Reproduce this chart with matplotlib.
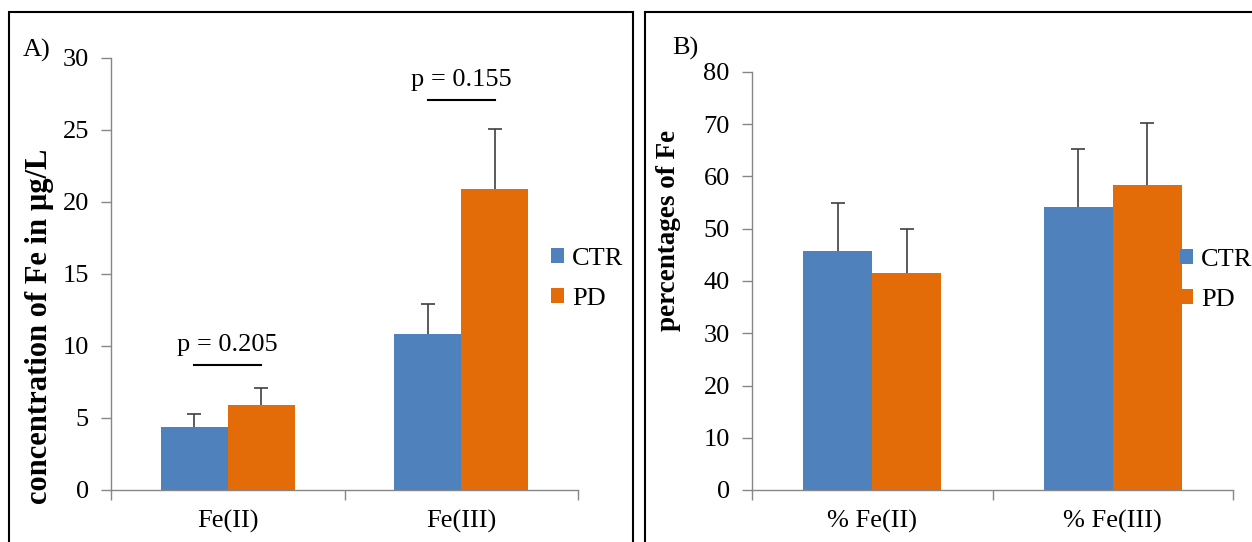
import matplotlib.pyplot as plt
import matplotlib.patches as mpatches
import numpy as np

plt.rcParams['font.family'] = ['Liberation Serif', 'DejaVu Serif']

# panel A data
cats_a = ["Fe(II)", "Fe(III)"]
ctr_a = [4.4, 10.8]
ctr_a_err = [0.9, 2.1]
pd_a = [5.9, 20.9]
pd_a_err = [1.2, 4.2]
p_text = ["p = 0.205", "p = 0.155"]
p_line_y = [8.7, 27.1]

# panel B data
cats_b = ["% Fe(II)", "% Fe(III)"]
ctr_b = [45.7, 54.1]
ctr_b_err = [9.3, 11.1]
pd_b = [41.5, 58.4]
pd_b_err = [8.5, 11.8]

blue = "#4F81BD"
orange = "#E36C09"
grey = "#868686"
fs = 19

W, H = 1252, 542
fig = plt.figure(figsize=(W / 100, H / 100), dpi=100)

# panel frames
fig.add_artist(mpatches.Rectangle((9/W, -0.01), 624/W, 1 - 12/H + 0.01,
                                  transform=fig.transFigure, fill=False, ec="black", lw=1.5))
fig.add_artist(mpatches.Rectangle((645/W, -0.01), 620/W, 1 - 12/H + 0.01,
                                  transform=fig.transFigure, fill=False, ec="black", lw=1.5))


def draw(ax, cats, ctr, ctr_err, pdv, pd_err, ymax, step):
    x = np.arange(len(cats))
    w = 0.286
    ax.bar(x - w/2, ctr, w, color=blue, label="CTR", zorder=2)
    ax.bar(x + w/2, pdv, w, color=orange, label="PD", zorder=2)
    for xs, vals, errs in [(x - w/2, ctr, ctr_err), (x + w/2, pdv, pd_err)]:
        eb = ax.errorbar(xs, vals, yerr=[np.zeros(len(vals)), errs], fmt="none",
                         ecolor="#404040", elinewidth=1.2, capsize=5, capthick=1.2, zorder=3)
        eb[1][0].set_visible(False)  # no lower cap
    ax.set_xlim(-0.5, 1.5)
    ax.set_ylim(0, ymax)
    ax.set_yticks(np.arange(0, ymax + 1, step))
    ax.set_xticks(x)
    ax.set_xticklabels(cats, fontsize=fs)
    ax.set_xticks([-0.5, 0.5, 1.5], minor=True)
    ax.tick_params(axis="x", which="major", length=0, pad=14)
    ax.tick_params(axis="x", which="minor", length=7, color=grey, width=1)
    ax.tick_params(axis="y", labelsize=fs, length=7, color=grey, width=1, pad=9)
    for s in ["top", "right"]:
        ax.spines[s].set_visible(False)
    for s in ["left", "bottom"]:
        ax.spines[s].set_color(grey)
        ax.spines[s].set_linewidth(1)
    return x, w


leg_kw = dict(loc="center left", frameon=False, fontsize=fs, borderpad=0, borderaxespad=0,
              handlelength=0.5, handleheight=0.5, handletextpad=0.3, labelspacing=0.7)

ax1 = fig.add_axes([111/W, 1 - 490/H, 467/W, 432/H])
x, w = draw(ax1, cats_a, ctr_a, ctr_a_err, pd_a, pd_a_err, 30, 5)
for i in range(len(cats_a)):
    ax1.plot([x[i] - w/2, x[i] + w/2], [p_line_y[i], p_line_y[i]], color="black", lw=1.5)
    ax1.text(x[i], p_line_y[i] + 0.6, p_text[i], ha="center", va="bottom", fontsize=fs)
ax1.legend(bbox_to_anchor=(551/W, 1 - 279/H), bbox_transform=fig.transFigure, **leg_kw)
fig.text(40/W, 1 - 326/H, "concentration of Fe in µg/L", rotation=90, ha="center",
         va="center", fontsize=22, fontweight="bold")
fig.text(23/W, 1 - 50/H, "A)", fontsize=fs, va="center")

ax2 = fig.add_axes([752/W, 1 - 490/H, 481/W, 418/H])
draw(ax2, cats_b, ctr_b, ctr_b_err, pd_b, pd_b_err, 80, 10)
ax2.legend(bbox_to_anchor=(1180/W, 1 - 280/H), bbox_transform=fig.transFigure, **leg_kw)
fig.text(668/W, 1 - 230/H, "percentages of Fe", rotation=90, ha="center",
         va="center", fontsize=19.5, fontweight="bold")
fig.text(672/W, 1 - 48/H, "B)", fontsize=fs, va="center")

fig.savefig("out.png", dpi=100)
